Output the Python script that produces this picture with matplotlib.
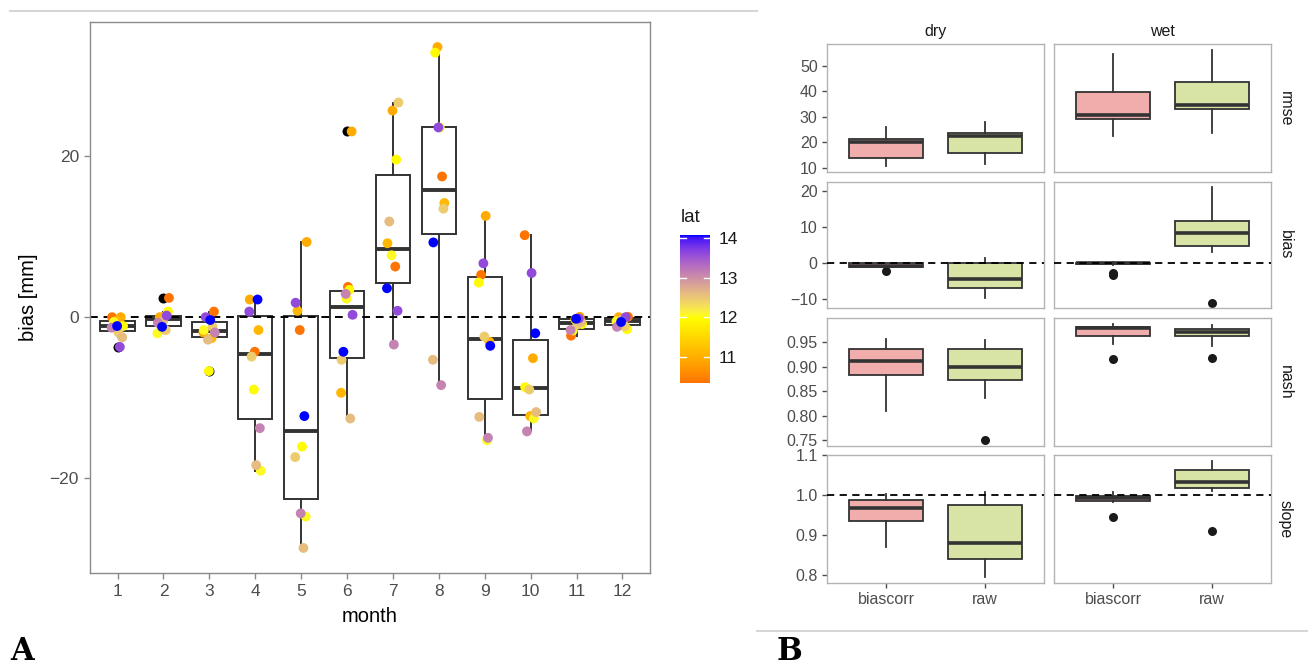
import numpy as np
import matplotlib
matplotlib.use("Agg")
import matplotlib.pyplot as plt
from matplotlib.colors import ListedColormap, Normalize
from matplotlib.cm import ScalarMappable
from matplotlib.lines import Line2D

plt.rcParams['font.family'] = ['Liberation Sans', 'DejaVu Sans']

# ---------------- Panel A data ----------------
months = [1, 2, 3, 4, 5, 6, 7, 8, 9, 10, 11, 12]
# station latitudes (order used in every month list below)
station_lat = [10.33, 10.95, 11.1, 11.95, 12.05, 12.45, 12.6, 13.1, 13.6, 14.08]

bias_m1 = [0.0, 0.0, -0.5, -1.1, -0.6, -1.9, -2.5, -1.3, -3.7, -1.1]
bias_m2 = [2.4, 0.0, 0.1, 0.7, -2.0, -1.6, -0.5, -0.7, 0.2, -1.2]
bias_m3 = [0.7, -1.9, -2.6, -6.7, -1.6, -1.2, -2.8, -1.9, 0.0, -0.35]
bias_m4 = [-4.3, 2.2, -1.6, -9.0, -19.1, -4.9, -18.4, -13.8, 0.7, 2.2]
bias_m5 = [-1.6, 9.35, 0.8, -16.1, -24.8, -17.4, -28.7, -24.4, 1.8, -12.3]
bias_m6 = [3.77, 23.1, -9.4, 3.4, 2.3, -5.3, -12.6, 2.9, 0.3, -4.3]
bias_m7 = [6.3, 25.7, 9.2, 19.6, 7.7, 26.7, 11.9, -3.4, 0.8, 3.6]
bias_m8 = [17.5, 33.6, 14.2, 32.9, 23.6, 13.5, -5.3, -8.45, 23.6, 9.3]
bias_m9 = [5.26, 12.6, -3.06, 4.3, -15.3, -2.4, -12.4, -15.0, 6.7, -3.56]
bias_m10 = [10.2, -5.1, -12.3, -8.7, -12.6, -9.0, -11.8, -14.2, 5.5, -2.0]
bias_m11 = [-2.3, 0.05, -0.3, -0.85, -1.65, -0.9, -0.6, -1.6, -0.15, -0.2]
bias_m12 = [0.05, 0.0, -0.4, -1.5, -0.5, -1.15, -0.3, -1.2, 0.0, -0.6]
bias_by_month = [bias_m1, bias_m2, bias_m3, bias_m4, bias_m5, bias_m6,
                 bias_m7, bias_m8, bias_m9, bias_m10, bias_m11, bias_m12]
lat_ticks = [11, 12, 13, 14]

# ---------------- Panel B data (whislo, q1, median, q3, whishi) ----------------
seasons = ["dry", "wet"]
methods = ["biascorr", "raw"]
metrics = ["rmse", "bias", "nash", "slope"]

rmse_dry_biascorr = [10.6, 13.9, 20.1, 21.4, 26.0]
rmse_dry_raw = [11.7, 15.96, 22.7, 23.6, 27.9]
rmse_wet_biascorr = [22.7, 29.2, 30.8, 39.6, 54.5]
rmse_wet_raw = [23.6, 33.1, 34.7, 43.5, 56.1]

bias_dry_biascorr = [-1.2, -1.0, -0.8, -0.1, 0.0]
bias_dry_raw = [-9.7, -7.0, -4.5, 0.0, 1.3]
bias_wet_biascorr = [-0.4, -0.15, 0.0, 0.05, 0.2]
bias_wet_raw = [3.2, 4.86, 8.4, 11.6, 20.9]

nash_dry_biascorr = [0.8107, 0.8827, 0.9128, 0.9366, 0.9575]
nash_dry_raw = [0.8366, 0.8727, 0.900, 0.9353, 0.9548]
nash_wet_biascorr = [0.946, 0.9635, 0.980, 0.981, 0.987]
nash_wet_raw = [0.942, 0.9628, 0.971, 0.977, 0.985]

slope_dry_biascorr = [0.872, 0.935, 0.968, 0.989, 1.004]
slope_dry_raw = [0.795, 0.841, 0.881, 0.977, 1.008]
slope_wet_biascorr = [0.983, 0.987, 0.994, 0.999, 1.008]
slope_wet_raw = [1.011, 1.019, 1.032, 1.063, 1.086]

# outliers
bias_dry_biascorr_out = [-2.2]
bias_wet_biascorr_out = [-2.6, -3.2]
bias_wet_raw_out = [-10.9]
nash_dry_raw_out = [0.751]
nash_wet_biascorr_out = [0.9166]
nash_wet_raw_out = [0.9177]
slope_wet_biascorr_out = [0.947]
slope_wet_raw_out = [0.912]

ref_lines = {"bias": 0.0, "slope": 1.0}

# ---------------- helpers ----------------
W, H = 1308, 665
fig = plt.figure(figsize=(W / 100, H / 100), dpi=100)


def add_px(x0, y0, x1, y1):
    return fig.add_axes([x0 / W, 1 - y1 / H, (x1 - x0) / W, (y1 - y0) / H])


def _lin(c):
    c = np.asarray(c, float)
    return np.where(c <= 0.04045, c / 12.92, ((c + 0.055) / 1.055) ** 2.4)


_M = np.array([[0.4124, 0.3576, 0.1805], [0.2126, 0.7152, 0.0722], [0.0193, 0.1192, 0.9505]])
_WH = np.array([0.95047, 1.0, 1.08883])


def rgb2lab(rgb):
    xyz = _M @ _lin(rgb) / _WH
    f = np.where(xyz > 0.008856, np.cbrt(xyz), 7.787 * xyz + 16 / 116)
    return np.array([116 * f[1] - 16, 500 * (f[0] - f[1]), 200 * (f[1] - f[2])])


def lab2rgb(lab):
    L, a, b = lab
    fy = (L + 16) / 116
    fx = fy + a / 500
    fz = fy - b / 200
    f = np.array([fx, fy, fz])
    xyz = np.where(f ** 3 > 0.008856, f ** 3, (f - 16 / 116) / 7.787) * _WH
    lin = np.linalg.solve(_M, xyz)
    lin = np.clip(lin, 0, 1)
    c = np.where(lin <= 0.0031308, 12.92 * lin, 1.055 * lin ** (1 / 2.4) - 0.055)
    return np.clip(c, 0, 1)


low = rgb2lab(np.array([255, 69, 0]) / 255)
mid = rgb2lab(np.array([255, 255, 0]) / 255)
high = rgb2lab(np.array([0, 0, 255]) / 255)
vmin, vmax, vmid = min(station_lat), max(station_lat), 12.0
half = max(vmax - vmid, vmid - vmin)
cols = []
for v in np.linspace(vmin, vmax, 256):
    t = (v - vmid) / (2 * half) + 0.5
    if t <= 0.5:
        u = t / 0.5
        lab = low + (mid - low) * u
    else:
        u = (t - 0.5) / 0.5
        lab = mid + (high - mid) * u
    cols.append(lab2rgb(lab))
cmap = ListedColormap(cols)
norm = Normalize(vmin=vmin, vmax=vmax)

BOXC = '#333333'
TICKC = '#4D4D4D'

# ---------------- Panel A ----------------
ax = add_px(90, 22, 650, 573)
ax.boxplot(bias_by_month, positions=months, widths=0.75, patch_artist=True,
           showcaps=False, whis=1.5,
           boxprops=dict(facecolor='white', edgecolor=BOXC, linewidth=1.4),
           medianprops=dict(color=BOXC, linewidth=2.8),
           whiskerprops=dict(color=BOXC, linewidth=1.4),
           flierprops=dict(marker='o', markerfacecolor='black', markeredgecolor='none',
                           markersize=7.2),
           zorder=2)
ax.axhline(0, color='black', linestyle=(0, (4, 3)), linewidth=1.4, zorder=2.5)
jit = [-0.12, 0.07, -0.03, 0.12, -0.08, 0.02, 0.10, -0.13, 0.05, -0.01]
for i, (m, vals) in enumerate(zip(months, bias_by_month)):
    xs = [m + jit[(k + 3 * i) % len(jit)] for k in range(len(vals))]
    ax.scatter(xs, vals, c=station_lat, cmap=cmap, norm=norm, s=50,
               edgecolors='none', zorder=3)

allv = np.concatenate(bias_by_month)
pad = 0.05 * (allv.max() - allv.min())
ax.set_ylim(allv.min() - pad, allv.max() + pad)
ax.set_xlim(0.4, 12.6)
ax.set_xticks(months)
ax.set_yticks([-20, 0, 20])
for s in ax.spines.values():
    s.set_color('#8A8A8A')
    s.set_linewidth(1.0)
ax.tick_params(color='#8A8A8A', length=4, width=1, labelsize=12.5, labelcolor=TICKC, pad=4)
ax.set_xlabel('month', fontsize=14.5, labelpad=6)
ax.set_ylabel('bias [mm]', fontsize=14.5, labelpad=8)

# colorbar
cax = add_px(680, 235, 710, 383)
sm = ScalarMappable(norm=norm, cmap=cmap)
cb = fig.colorbar(sm, cax=cax)
cb.outline.set_visible(False)
cb.set_ticks(lat_ticks)
cax.tick_params(length=0, labelsize=12.5, labelcolor='#1A1A1A', pad=6)
for t in lat_ticks:
    cax.plot([0, 0.2], [t, t], color='white', lw=1, transform=cax.get_yaxis_transform())
    cax.plot([0.8, 1.0], [t, t], color='white', lw=1, transform=cax.get_yaxis_transform())
fig.text(681 / W, 1 - 218 / H, 'lat', fontsize=13.5, va='center', ha='left', color='#1A1A1A')

# ---------------- Panel B ----------------
col_px = [(826.7, 1044), (1054, 1271)]
row_px = [(44.3, 172.3), (181.7, 308.3), (318.3, 445.7), (455, 583.3)]
fills = ['#F0ADAB', '#D8E4A6']
ns = globals()
ytick_sets = {"rmse": ([10, 20, 30, 40, 50], '{:.0f}'),
              "bias": ([-10, 0, 10, 20], '{:.0f}'),
              "nash": ([0.75, 0.80, 0.85, 0.90, 0.95], '{:.2f}'),
              "slope": ([0.8, 0.9, 1.0, 1.1], '{:.1f}')}

for r, met in enumerate(metrics):
    vals = []
    for sea in seasons:
        for meth in methods:
            vals += ns[f"{met}_{sea}_{meth}"] + ns.get(f"{met}_{sea}_{meth}_out", [])
    lo, hi = min(vals), max(vals)
    p = 0.05 * (hi - lo)
    for c, sea in enumerate(seasons):
        x0, x1 = col_px[c]
        y0, y1 = row_px[r]
        a = add_px(x0, y0, x1, y1)
        stats = []
        for meth in methods:
            wl, q1, md, q3, wh = ns[f"{met}_{sea}_{meth}"]
            stats.append(dict(whislo=wl, q1=q1, med=md, q3=q3, whishi=wh,
                              fliers=ns.get(f"{met}_{sea}_{meth}_out", [])))
        bp = a.bxp(stats, positions=[1, 2], widths=0.75, patch_artist=True, showcaps=False,
                   boxprops=dict(edgecolor=BOXC, linewidth=1.3),
                   medianprops=dict(color=BOXC, linewidth=2.6),
                   whiskerprops=dict(color=BOXC, linewidth=1.3),
                   flierprops=dict(marker='o', markerfacecolor='#1A1A1A',
                                   markeredgecolor='none', markersize=6.5))
        for patch, fc in zip(bp['boxes'], fills):
            patch.set_facecolor(fc)
        if met in ref_lines:
            a.axhline(ref_lines[met], color='black', linestyle=(0, (4, 3)),
                      linewidth=1.3, zorder=5)
        a.set_xlim(0.4, 2.6)
        a.set_ylim(lo - p, hi + p)
        ticks, fmt = ytick_sets[met]
        a.set_yticks(ticks)
        a.set_xticks([1, 2])
        for s in a.spines.values():
            s.set_color('#B3B3B3')
            s.set_linewidth(1.0)
        a.tick_params(color='#4D4D4D', length=3.5, width=1, labelsize=11.5,
                      labelcolor=TICKC, pad=3)
        if c == 0:
            a.set_yticklabels([fmt.format(t).replace('-', '\u2212') for t in ticks])
        else:
            a.tick_params(axis='y', left=False, labelleft=False)
        if r == len(metrics) - 1:
            a.set_xticklabels(methods)
        else:
            a.tick_params(axis='x', bottom=False, labelbottom=False)
        if r == 0:
            a.set_title(sea, fontsize=11.5, color='#1A1A1A', pad=6)
        if c == 1:
            a.text(1.0 + 14 / (x1 - x0), 0.5, met, rotation=270, transform=a.transAxes,
                   ha='center', va='center', fontsize=11.5, color='#1A1A1A')

# separators and panel letters
fig.add_artist(Line2D([10 / W, 757 / W], [1 - 11 / H, 1 - 11 / H], color='#D6D6D6', lw=1.5))
fig.add_artist(Line2D([757 / W, 1308 / W], [1 - 631 / H, 1 - 631 / H], color='#D6D6D6', lw=1.5))
fig.text(22 / W, 1 - 651 / H, 'A', fontsize=22, fontweight='bold', family='DejaVu Serif',
         ha='center', va='center')
fig.text(789 / W, 1 - 651 / H, 'B', fontsize=22, fontweight='bold', family='DejaVu Serif',
         ha='center', va='center')

fig.savefig('out.png', dpi=100, facecolor='white')
